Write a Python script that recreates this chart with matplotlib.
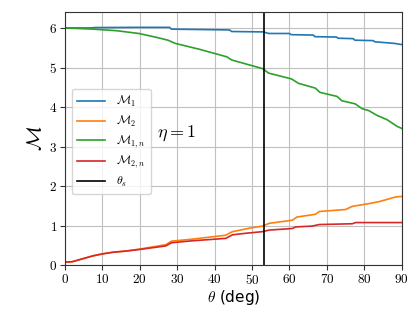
import matplotlib
matplotlib.use('Agg')
import matplotlib.pyplot as plt

# data
theta_m1 = [0, 7, 8, 19, 28, 28.5, 44, 44.6, 53, 54.5, 60, 60.5, 66.4, 66.8, 72.6, 73, 77, 77.5, 82.4, 82.8, 88, 90]
m1 = [6.0, 6.0, 6.01, 6.015, 6.015, 5.97, 5.95, 5.91, 5.90, 5.86, 5.86, 5.83, 5.82, 5.78, 5.77, 5.74, 5.73, 5.69, 5.68, 5.65, 5.61, 5.58]

theta_m1n = [0, 7.6, 13.9, 19.8, 24.6, 27.6, 29.5, 36, 43.3, 44.6, 52.9, 54.4, 60.6, 62.4, 66.9, 68.2,
             72.7, 74, 77.6, 79.4, 81.2, 83.4, 86.1, 88.8, 90]
m1n = [6.0, 5.97, 5.93, 5.86, 5.76, 5.69, 5.61, 5.46, 5.27, 5.19, 4.97, 4.86, 4.71, 4.60, 4.48, 4.37,
       4.27, 4.16, 4.08, 3.96, 3.91, 3.79, 3.68, 3.51, 3.46]

theta_m2 = [0, 2, 7.6, 10.2, 12.9, 16.4, 20, 27, 28.5, 34, 43, 44.8, 50, 52.8, 54.6, 60.8, 62, 67, 68,
            75, 76.8, 81.3, 84, 88.5, 90]
m2 = [0.08, 0.09, 0.24, 0.29, 0.33, 0.36, 0.41, 0.52, 0.61, 0.66, 0.76, 0.85, 0.95, 0.99, 1.06, 1.14, 1.22,
      1.29, 1.36, 1.41, 1.49, 1.56, 1.61, 1.73, 1.74]

theta_m2n = [0, 2, 7.6, 10.2, 12.9, 16.4, 20, 27, 28.5, 34.2, 43, 44.8, 48.4, 52.8, 54.6, 60.8, 61.7,
             66, 68, 76.8, 77.7, 90]
m2n = [0.08, 0.09, 0.24, 0.29, 0.33, 0.36, 0.40, 0.49, 0.57, 0.62, 0.68, 0.77, 0.81, 0.85, 0.89, 0.93,
       0.97, 0.99, 1.03, 1.05, 1.08, 1.08]

theta_s = 53.13

plt.rcParams['font.family'] = 'cmr10'
plt.rcParams['mathtext.fontset'] = 'cm'
plt.rcParams['axes.formatter.use_mathtext'] = True

fig = plt.figure(figsize=(4.15, 3.11), dpi=100)
ax = fig.add_axes([0.156, 0.147, 0.812, 0.814])

ax.plot(theta_m1, m1, color='tab:blue', lw=1.2, label=r'$\mathcal{M}_1$')
ax.plot(theta_m2, m2, color='tab:orange', lw=1.2, label=r'$\mathcal{M}_2$')
ax.plot(theta_m1n, m1n, color='tab:green', lw=1.2, label=r'$\mathcal{M}_{1,n}$')
ax.plot(theta_m2n, m2n, color='tab:red', lw=1.2, label=r'$\mathcal{M}_{2,n}$')
ax.axvline(theta_s, color='black', lw=1.2, label=r'$\theta_s$')

ax.set_xlim(0, 90)
ax.set_ylim(0, 6.4)
ax.set_xticks(range(0, 91, 10))
ax.set_yticks(range(0, 7))
ax.grid(True, color='#c0c0c0', lw=0.8)
ax.tick_params(labelsize=9.5, length=3.5, color='#333333', pad=2)
for s in ax.spines.values():
    s.set_color('#333333')

ax.set_xlabel(r'$\theta$ (deg)', fontsize=11, family='DejaVu Sans', labelpad=1)
ax.set_ylabel(r'$\mathcal{M}$', fontsize=15, labelpad=2)

ax.legend(loc='upper left', bbox_to_anchor=(0.021, 0.697), borderaxespad=0, fontsize=8.5,
          framealpha=0.8, handlelength=2.4, handletextpad=0.9, borderpad=0.45, labelspacing=0.38)
ax.text(0.275, 0.52, r'$\eta = 1$', transform=ax.transAxes, fontsize=13, va='center')

fig.savefig('out.png', dpi=100)
